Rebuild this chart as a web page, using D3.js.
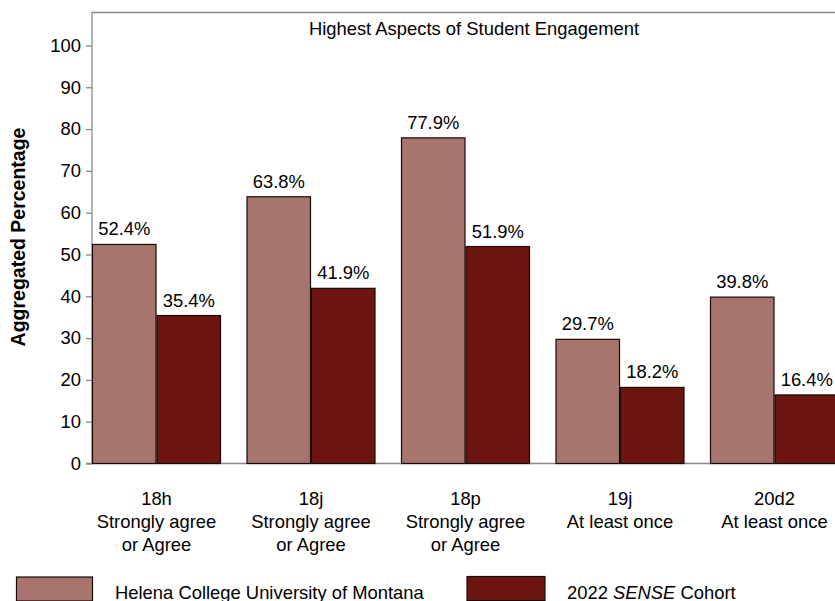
<!DOCTYPE html>
<html><head><meta charset="utf-8">
<script src="https://cdn.jsdelivr.net/npm/d3@7"></script>
<style>body{margin:0;background:#fff}svg{display:block;font-family:"Liberation Sans",Arial,sans-serif}</style>
</head><body><svg id="c" width="835" height="601"></svg>
<script>
const categories = ["18h","18j","18p","19j","20d2"];
const catSub = [["Strongly agree","or Agree"],["Strongly agree","or Agree"],["Strongly agree","or Agree"],["At least once"],["At least once"]];
const seriesNames = ["Helena College University of Montana","2022 SENSE Cohort"];
const helena = [52.4, 63.8, 77.9, 29.7, 39.8];
const sense = [35.4, 41.9, 51.9, 18.2, 16.4];
const yTicks = [0,10,20,30,40,50,60,70,80,90,100];
const colors = ["#a8746e","#6c1510"];

(function(){
const FS = 18.4;
const svg = d3.select("#c");
const pL = 92, pR = 839, pT = 12, pB = 463.5;
const x = d3.scaleBand().domain(categories).range([pL, pR]).paddingInner(0.165).paddingOuter(0);
const xs = d3.scaleBand().domain([0,1]).range([0, x.bandwidth()]);
const y = d3.scaleLinear().domain([0,108]).range([pB, pT]);

svg.append("line").attr("x1",pL).attr("x2",870).attr("y1",pT+0.5).attr("y2",pT+0.5).attr("stroke","#888").attr("stroke-width",1.3);
const ya = svg.append("g").attr("transform",`translate(${pL},0)`).call(d3.axisLeft(y).tickValues(yTicks).tickSize(6).tickPadding(5));
ya.select(".domain").attr("d",`M0,${pT}V${pB}`).attr("stroke","#888").attr("stroke-width",1.3);
ya.selectAll(".tick line").attr("stroke","#888").attr("stroke-width",1.3);
ya.selectAll(".tick text").attr("font-size",FS).attr("fill","#000").attr("font-family","Liberation Sans, Arial, sans-serif");
svg.append("line").attr("x1",pL-6).attr("x2",870).attr("y1",pB).attr("y2",pB).attr("stroke","#888").attr("stroke-width",1.3);

const data = [helena, sense];
data.forEach((vals, s) => {
  const g = svg.append("g");
  g.selectAll("rect").data(vals).join("rect")
    .attr("x",(d,i)=>x(categories[i])+xs(s)+0.5)
    .attr("y",d=>y(d))
    .attr("width",xs.bandwidth()-1)
    .attr("height",d=>pB-y(d))
    .attr("fill",colors[s]).attr("stroke","#1a0a08").attr("stroke-width",1.2);
  g.selectAll("text").data(vals).join("text")
    .attr("x",(d,i)=>x(categories[i])+xs(s)+xs.bandwidth()/2)
    .attr("y",d=>y(d)-9)
    .attr("text-anchor","middle").attr("font-size",FS).text(d=>d.toFixed(1)+"%");
});

categories.forEach((c,i)=>{
  const cx = x(c)+x.bandwidth()/2;
  const t = svg.append("text").attr("text-anchor","middle").attr("font-size",FS).attr("x",cx).attr("y",505);
  [c, ...catSub[i]].forEach((line,k)=>{
    t.append("tspan").attr("x",cx).attr("dy",k===0?0:23).text(line);
  });
});

svg.append("text").attr("x",474).attr("y",35).attr("text-anchor","middle").attr("font-size",FS).text("Highest Aspects of Student Engagement");
svg.append("text").attr("transform","translate(24.5,237) rotate(-90)").attr("text-anchor","middle").attr("font-size",19.5).attr("font-weight","bold").text("Aggregated Percentage");

svg.append("rect").attr("x",16.5).attr("y",577).attr("width",76).attr("height",24).attr("fill",colors[0]).attr("stroke","#1a0a08").attr("stroke-width",1.2);
svg.append("text").attr("x",115).attr("y",599).attr("font-size",FS).text(seriesNames[0]);
svg.append("rect").attr("x",467).attr("y",576.5).attr("width",78).attr("height",24).attr("fill",colors[1]).attr("stroke","#1a0a08").attr("stroke-width",1.2);
const lt = svg.append("text").attr("x",567).attr("y",599).attr("font-size",FS);
lt.append("tspan").text("2022 ");
lt.append("tspan").attr("font-style","italic").text("SENSE");
lt.append("tspan").text(" Cohort");
})();
</script></body></html>
